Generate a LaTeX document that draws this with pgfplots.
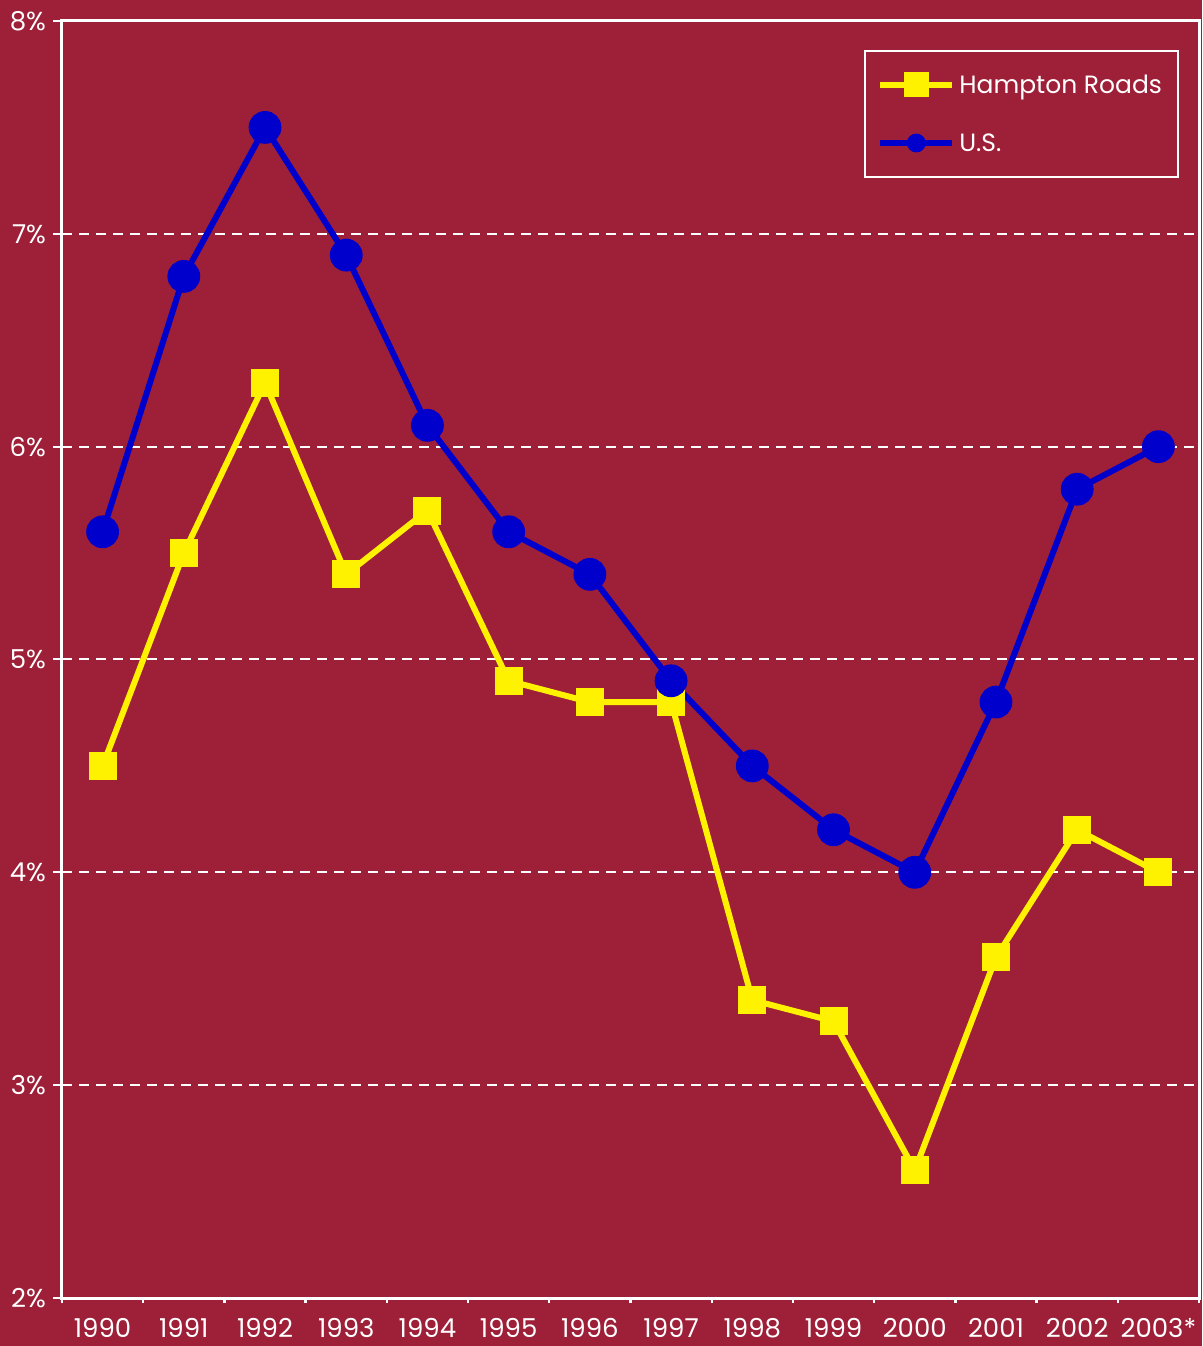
\documentclass[border=0pt]{standalone}
\usepackage{pgfplots}
\pgfplotsset{compat=1.18}
\usepackage{fontspec}
\setmainfont{Poppins}
\definecolor{bgred}{RGB}{158,31,56}
\definecolor{usblue}{RGB}{0,0,204}
\definecolor{hryellow}{RGB}{255,242,0}

\begin{document}
\begin{tikzpicture}
\fill[bgred] (-31pt,-24pt) rectangle (570pt,649pt);
\begin{axis}[
    at={(0,0)}, anchor=south west,
    scale only axis,
    width=568.5pt, height=638.5pt,
    xmin=-0.5, xmax=13.5,
    ymin=2, ymax=8,
    axis line style={white, line width=1.5pt},
    xtick={0,...,13},
    xticklabels={1990,1991,1992,1993,1994,1995,1996,1997,1998,1999,2000,2001,2002,2003*},
    minor xtick={-0.5,0.5,...,13.5},
    every major x tick/.append style={draw=none},
    every minor x tick/.append style={white, line width=1.2pt},
    minor tick length=2.5pt,
    ytick={2,...,8},
    yticklabels={2\%,3\%,4\%,5\%,6\%,7\%,8\%},
    every major y tick/.append style={white, line width=1pt},
    major tick length=4.5pt,
    tick align=outside,
    tick pos=left,
    ymajorgrids,
    grid style={white, line width=1pt, dash pattern=on 5pt off 3.5pt},
    tick label style={font=\fontsize{13}{15}\selectfont, text=white},
    xticklabel style={yshift=-2pt},
    /pgf/number format/assume math mode=true,
    legend style={
        at={(1,1)}, anchor=north east, xshift=-10pt, yshift=-14.5pt,
        draw=white, line width=1pt, fill=none, text=white,
        font=\fontsize{12.5}{14}\selectfont,
        inner xsep=6pt, inner ysep=10.5pt, row sep=16pt,
        nodes={inner sep=2pt, text height=9pt, text depth=0pt},
    },
    legend cell align=left,
]
\addplot[hryellow, line width=3pt, mark=square*, mark size=5.5pt,
    mark options={fill=hryellow, draw=none},
    legend image code/.code={
        \draw[hryellow, line width=3pt] (0pt,0pt) -- (36pt,0pt);
        \fill[hryellow] (13.25pt,-4.75pt) rectangle (22.75pt,4.75pt);
    }] coordinates {
    (0,4.5) (1,5.5) (2,6.3) (3,5.4) (4,5.7) (5,4.9) (6,4.8)
    (7,4.8) (8,3.4) (9,3.3) (10,2.6) (11,3.6) (12,4.2) (13,4.0)
};
\addlegendentry{Hampton Roads}
\addplot[usblue, line width=3pt, mark=*, mark size=6.7pt,
    mark options={fill=usblue, draw=none},
    legend image code/.code={
        \draw[usblue, line width=3pt] (0pt,0pt) -- (36pt,0pt);
        \fill[usblue] (18pt,0pt) circle (3.2pt);
    }] coordinates {
    (0,5.6) (1,6.8) (2,7.5) (3,6.9) (4,6.1) (5,5.6) (6,5.4)
    (7,4.9) (8,4.5) (9,4.2) (10,4.0) (11,4.8) (12,5.8) (13,6.0)
};
\addlegendentry{U.S.}
\end{axis}
\end{tikzpicture}
\end{document}
